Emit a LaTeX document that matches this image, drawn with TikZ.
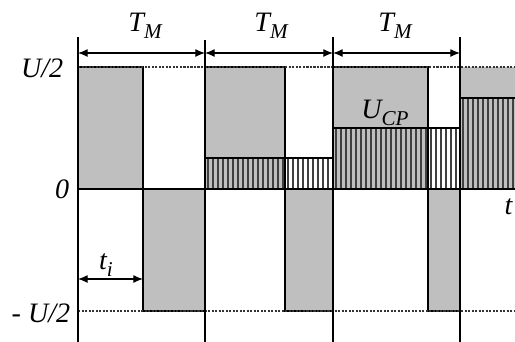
\documentclass[tikz,border=0pt]{standalone}
\usepackage{fontspec}
\setmainfont{Liberation Serif}
\usetikzlibrary{arrows.meta}
\newcommand{\lowidx}[1]{\raisebox{-0.55ex}{\fontsize{12}{14}\selectfont #1}}

\begin{document}
\begin{tikzpicture}[x=0.02cm, y=-0.02cm, line width=0.85pt,
            pulse/.style={fill=black!25, draw=black},
            hatch/.style={draw=black!75, line width=0.65pt},
            level/.style={draw=black!80, dash pattern=on 1.2pt off 0.8pt},
            dim/.style={{Latex[length=5.5pt,width=4.5pt]}-{Latex[length=5.5pt,width=4.5pt]}, line width=0.6pt},
            lbl/.style={font=\fontsize{16}{18}\selectfont\itshape, inner sep=0pt}]
            \useasboundingbox (0,0) rectangle (515,342);

            % switching pulses
            \draw[pulse] (78,67) rectangle (143,189);
            \draw[pulse] (143,189) rectangle (205,311);
            \draw[pulse] (205,67) rectangle (285,189);
            \draw[pulse] (285,189) rectangle (333,311);
            \draw[pulse] (333,67) rectangle (428,189);
            \draw[pulse] (428,189) rectangle (460,311);
            \fill[black!25] (460,67) rectangle (515,189);

            % capacitor voltage
            \foreach \x in {208,213,...,332} \draw[hatch] (\x,158) -- (\x,189);
            \foreach \x in {336,341,...,459} \draw[hatch] (\x,128) -- (\x,189);
            \foreach \x in {463,468,...,515} \draw[hatch] (\x,98) -- (\x,189);
            \draw (205,189) |- (333,158) |- (460,128) |- (515,98);
            \draw (78,189) -- (515,189);

            \draw[level] (78,67) -- (515,67);
            \draw[level] (78,311) -- (515,311);

            \draw (78,37) -- (78,342);
            \draw (205,40) -- (205,342);
            \draw (333,37) -- (333,342);
            \draw (460,37) -- (460,342);

            % periods
            \coordinate (m0) at (78,53);
            \coordinate (m1) at (205,53);
            \coordinate (m2) at (333,53);
            \coordinate (m3) at (460,53);
            \draw[dim] (m0) -- (m1);
            \draw[dim] (m1) -- (m2);
            \draw[dim] (m2) -- (m3);
            \node[lbl] (tm1) at (145,26) {T\lowidx{M}};
            \node[lbl] (tm2) at (271,26) {T\lowidx{M}};
            \node[lbl] (tm3) at (395,26) {T\lowidx{M}};

            \coordinate (i0) at (78,279);
            \coordinate (i1) at (143,279);
            \draw[dim] (i0) -- (i1);
            \node[lbl] (ti) at (106,265) {t\lowidx{i}};

            \node[lbl, anchor=east] (up) at (64,68) {U/2};
            \node[lbl, anchor=east] (zero) at (70,189) {0};
            \node[lbl, anchor=east] (um) at (71,313) {- U/2};
            \node[lbl] (ucp) at (385,113) {U\lowidx{CP}};
            \node[lbl, anchor=west] (tt) at (504,207) {t};
            \end{tikzpicture}
\end{document}
